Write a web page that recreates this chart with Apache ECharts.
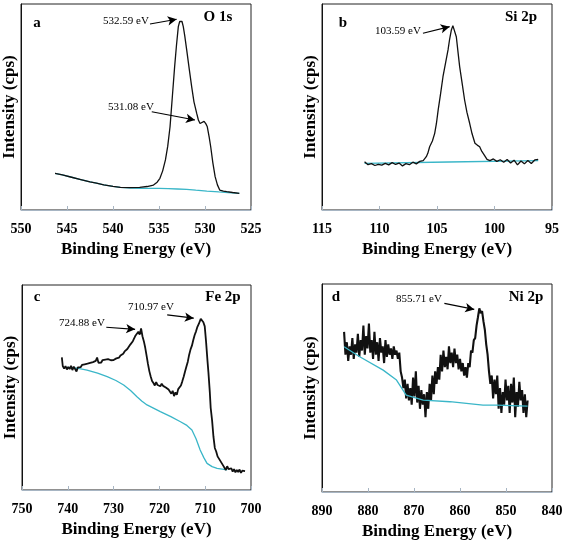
<!DOCTYPE html>
<html>
<head>
<meta charset="utf-8">
<script src="https://cdn.jsdelivr.net/npm/echarts@6/dist/echarts.min.js"></script>
<style>html,body{margin:0;padding:0;background:#fff}#c{width:567px;height:541px}</style>
</head>
<body>
<div id="c"></div>
<script>
// ---- Panel a: O 1s ----
const oSpec = [[546.3,17.8],[545.5,17.0],[544.5,15.9],[543.5,14.8],[542.5,13.6],[541.8,13.0],[541,12.2],[540,11.5],[539.2,11.0],[538.2,10.9],[537.1,11.0],[536.3,11.4],[535.6,12.1],[535.2,13.5],[534.9,15.4],[534.6,19],[534.3,24.3],[534.05,31],[533.8,40.4],[533.55,55],[533.3,69.6],[533.1,80],[532.9,89],[532.75,91.5],[532.62,92.2],[532.5,91.5],[532.36,89],[532.2,84.5],[531.99,77.7],[531.7,68],[531.45,59.9],[531.2,52.5],[530.9,46.9],[530.72,43.7],[530.54,42.0],[530.35,42.6],[530.1,43.0],[529.9,41.8],[529.75,40.4],[529.55,35.5],[529.38,30.7],[529.15,23],[528.9,16.2],[528.65,12.2],[528.4,9.7],[528.0,9.2],[527.64,8.9],[527,8.5],[526.27,8.1]];
const oBase = [[546.3,17.8],[545.5,17.0],[544.5,15.9],[543.5,14.8],[542.5,13.6],[541.8,13.0],[541,12.2],[540,11.5],[539.2,11.0],[538,10.6],[537,10.5],[535,10.5],[534,10.4],[533,10.2],[532,10.0],[531,9.6],[529.8,9.2],[528.5,8.8],[527.5,8.5],[526.27,8.1]];
// ---- Panel b: Si 2p ----
const siSpec = [[111.3,23.4],[111.0,22.0],[110.7,22.5],[110.4,21.6],[110.1,22.2],[109.8,21.8],[109.5,22.6],[109.2,21.9],[108.9,23.0],[108.6,22.1],[108.3,22.8],[108.0,21.4],[107.7,22.5],[107.4,22.0],[107.1,23.2],[106.8,22.4],[106.5,23.6],[106.2,24.0],[105.93,25.9],[105.8,27.5],[105.64,30.7],[105.4,33.5],[105.2,37.2],[105.05,42],[104.9,48.5],[104.7,56],[104.48,64.7],[104.25,71.5],[104.04,77.7],[103.9,83],[103.75,87.4],[103.62,89.5],[103.55,90.3],[103.45,88.6],[103.32,84.1],[103.18,77],[103.03,69.6],[102.8,61],[102.6,53.4],[102.4,47.5],[102.16,42.1],[101.95,37],[101.7,32.4],[101.5,31.5],[101.29,30.7],[101.1,28.4],[100.9,26.8],[100.65,24.6],[100.4,24.0],[100.1,24.8],[99.8,23.6],[99.5,24.4],[99.2,23.2],[98.9,24.5],[98.6,22.8],[98.3,24.2],[98.0,21.9],[97.7,23.8],[97.4,22.4],[97.1,24.0],[96.8,22.6],[96.5,24.3],[96.2,24.6]];
const siBase = [[111.3,22.6],[104,23.3],[96.2,24.0]];
// ---- Panel c: Fe 2p ----
const feSpec = [[741.3,64.7],[741.1,60.5],[740.8,59.2],[740.5,60.4],[740.2,58.8],[739.9,60.0],[739.6,59.0],[739.3,60.6],[739.0,58.5],[738.7,60.2],[738.4,59.3],[738.1,57.8],[737.8,59.8],[737.5,60.6],[737.2,59.9],[736.9,61.0],[736.6,60.2],[736.3,61.3],[736.0,60.4],[735.7,61.6],[735.4,60.8],[735.1,62.0],[734.8,61.1],[734.5,62.4],[734.2,61.5],[733.9,63.0],[733.6,64.6],[733.3,62.0],[733.0,62.8],[732.7,62.2],[732.4,63.4],[732.1,62.5],[731.8,63.6],[731.5,62.8],[731.2,63.8],[730.9,62.9],[730.6,63.3],[730.3,62.6],[730.0,63.4],[729.7,63.0],[729.4,64.2],[729.1,64.8],[728.8,64.6],[728.5,65.6],[728.2,66.2],[727.9,66.5],[727.6,67.6],[727.3,68.0],[727.0,68.8],[726.7,69.5],[726.4,70.8],[726.1,71.4],[725.8,72.6],[725.5,73.5],[725.2,75.4],[724.9,74.8],[724.6,77.2],[724.3,75.8],[724.0,78.8],[723.7,75.0],[723.4,72.6],[723.1,69.5],[722.8,65.5],[722.5,61.5],[722.2,58.0],[721.9,55.4],[721.6,53.2],[721.3,52.2],[721.0,51.0],[720.7,52.6],[720.4,51.2],[720.1,52.0],[719.8,50.6],[719.5,51.8],[719.2,50.8],[718.9,51.4],[718.6,50.0],[718.3,50.8],[718.0,49.0],[717.7,48.2],[717.4,47.0],[717.1,48.4],[716.8,45.8],[716.5,47.6],[716.2,46.4],[715.9,49.2],[715.6,49.6],[715.3,51.0],[715.0,53.0],[714.7,55.2],[714.4,57.8],[714.1,60.2],[713.8,62.6],[713.5,66.0],[713.2,68.6],[712.9,70.4],[712.6,73.2],[712.3,75.6],[712.0,77.4],[711.7,79.6],[711.4,81.0],[711.2,80.2],[710.97,83.5],[710.7,82.6],[710.4,81.8],[710.1,79.8],[709.8,72.0],[709.5,63.0],[709.3,57.5],[709.0,48.0],[708.8,40.0],[708.5,34.1],[708.2,26.0],[707.9,20.5],[707.6,18.8],[707.3,16.4],[707.0,15.8],[706.7,14.2],[706.4,13.5],[706.1,12.0],[705.8,11.5],[705.5,9.8],[705.2,11.6],[704.9,10.2],[704.6,9.4],[704.3,10.6],[704.0,9.0],[703.7,10.2],[703.4,8.6],[703.1,9.8],[702.8,8.8],[702.5,10.0],[702.2,8.4],[701.9,9.4],[701.6,8.6],[701.3,9.2]];
const feBase = [[740.2,59.8],[738,59.4],[735.8,58.5],[733.5,57.0],[731.4,55.3],[729.5,53.4],[727.8,51.2],[726.3,48.5],[724.9,45.5],[723.8,43.3],[722.7,41.5],[721.2,39.8],[719.8,38.2],[717.5,35.8],[715.4,33.3],[714.0,31.5],[712.9,29.3],[712.0,25],[711.1,19.5],[710.3,15.8],[709.6,13.0],[708.5,11.4],[707.4,10.6],[705.2,9.8]];
// ---- Panel d: Ni 2p ----
const niSpec = [[885.2,77],[884.9,66],[884.6,72],[884.3,63],[884.0,70],[883.7,66],[883.4,74],[883.1,64],[882.8,71],[882.5,67],[882.2,76],[881.9,65],[881.6,73],[881.3,68],[881.0,80],[880.7,66],[880.4,75],[880.1,69],[879.8,81],[879.5,67],[879.2,73],[878.9,64],[878.6,77],[878.3,66],[878.0,72],[877.7,63],[877.4,74],[877.1,67],[876.8,70],[876.5,62],[876.2,73],[875.9,65],[875.6,71],[875.3,66],[875.0,69],[874.7,64],[874.4,70],[874.1,66],[873.8,68],[873.5,64],[873.2,67],[872.9,58],[872.6,55],[872.3,50],[872.0,54],[871.7,45],[871.4,52],[871.1,44],[870.8,50],[870.5,42],[870.2,55],[869.9,46],[869.6,58],[869.3,43],[869.0,51],[868.7,40],[868.4,49],[868.1,42],[867.8,47],[867.5,36],[867.2,48],[866.9,40],[866.6,52],[866.3,44],[866.0,56],[865.7,47],[865.4,58],[865.1,52],[864.8,60],[864.5,54],[864.2,66],[863.9,58],[863.6,68],[863.3,60],[863.0,65],[862.7,59],[862.4,70],[862.1,62],[861.8,67],[861.5,60],[861.2,69],[860.9,62],[860.6,66],[860.3,59],[860.0,64],[859.7,58],[859.4,62],[859.1,56],[858.8,60],[858.5,55],[858.2,62],[857.9,60],[857.6,68],[857.3,67],[857.0,73],[856.7,74],[856.4,80],[856.1,84],[855.8,88.3],[855.5,86],[855.2,87],[854.9,82],[854.6,78],[854.3,71],[854.0,66],[853.7,58],[853.4,52],[853.1,56],[852.8,45],[852.5,54],[852.2,47],[851.9,56],[851.6,40],[851.3,50],[851.0,38],[850.7,48],[850.4,42],[850.1,54],[849.8,44],[849.5,51],[849.2,38],[848.9,52],[848.6,43],[848.3,55],[848.0,36],[847.7,48],[847.4,41],[847.1,53],[846.8,44],[846.5,49],[846.2,38],[845.9,47],[845.6,36],[845.3,44]];
const niBase = [[885.2,69.8],[881.8,65],[876.7,58.6],[873.8,53.8],[871.7,46.6],[868,44.2],[862.2,43.4],[855,41.8],[852.1,41.8],[845.3,41.3]];

// axis ranges and tick steps
const xRanges = [[525,550,5],[95,115,5],[700,750,10],[840,890,10]];
const panelLetters = ['a','b','c','d'];
const panelTitles = ['O 1s','Si 2p','Fe 2p','Ni 2p'];
// peak annotations: [panel, label, from, to]
const peakNotes = [
  [0,'532.59 eV',[535.98,90.3],[533.08,92.6]],
  [0,'531.08 eV',[535.79,47.7],[531.09,43.7]],
  [1,'103.59 eV',[106.22,85.8],[103.9,89.0]],
  [2,'710.97 eV',[718.3,85.4],[712.5,83.8]],
  [2,'724.88 eV',[731.6,79.4],[725.3,78.4]],
  [3,'855.71 eV',[863.4,90.7],[856.9,87.8]]
];
const spectra = [oSpec, siSpec, feSpec, niSpec];
const baselines = [oBase, siBase, feBase, niBase];

// layout (pixels)
const grids = [
  {left:21, top:4, width:230, height:206},
  {left:322, top:4, width:230, height:206},
  {left:22, top:285, width:229, height:205},
  {left:322, top:284, width:230, height:208}
];
const letterPos = [[37,23],[343,23],[37,297],[336,297]];
const titlePos = [[218,17],[521,17],[223,297],[526,297]];
const notePos = [[126,21],[131,107],[398,31],[151,307],[82,323],[419,299]];
const lineWidths = [1.3, 1.3, 1.8, 2.1];

const FONT = '"Liberation Serif","Times New Roman",serif';
const chart = echarts.init(document.getElementById('c'), null, {renderer:'canvas'});

const xAxes = xRanges.map((r,i)=>({
  type:'value', gridIndex:i, inverse:true, min:r[0], max:r[1], interval:r[2],
  axisLine:{show:true, lineStyle:{color:'#a7b5c3', width:1}},
  axisTick:{show:true, inside:true, length:4, lineStyle:{color:'#a7b5c3'}},
  splitLine:{show:false},
  axisLabel:{color:'#000', fontFamily:FONT, fontWeight:'bold', fontSize:14, margin:12},
  name:'Binding Energy (eV)', nameLocation:'middle', nameGap:31,
  nameTextStyle:{color:'#000', fontFamily:FONT, fontWeight:'bold', fontSize:17}
}));
const yAxes = grids.map((g,i)=>({
  type:'value', gridIndex:i, min:0, max:100,
  axisLine:{show:true, lineStyle:{color:'#111'}},
  axisTick:{show:false}, axisLabel:{show:false}, splitLine:{show:false},
  name:'Intensity (cps)', nameLocation:'middle', nameGap:3,
  nameTextStyle:{color:'#000', fontFamily:FONT, fontWeight:'bold', fontSize:17}
}));

const series = [];
spectra.forEach((s,i)=>{
  const notes = peakNotes.filter(n=>n[0]===i);
  series.push({
    type:'line', xAxisIndex:i, yAxisIndex:i, data:baselines[i], showSymbol:false,
    lineStyle:{color:'#3ab6c8', width:1.3}, z: i===3 ? 4 : 2, silent:true
  });
  series.push({
    type:'line', xAxisIndex:i, yAxisIndex:i, data:s, showSymbol:false,
    lineStyle:{color:'#111', width: lineWidths[i]}, z:3, silent:true,
    markLine:{
      silent:true, symbol:['none','arrow'], symbolSize:[7,9],
      lineStyle:{color:'#000', width:1.2, type:'solid'},
      label:{show:false},
      data: notes.map(n=>[{coord:n[2]},{coord:n[3]}])
    }
  });
});

const graphic = [];
panelLetters.forEach((t,i)=>graphic.push({type:'text', x:letterPos[i][0], y:letterPos[i][1], style:{text:t, align:'center', verticalAlign:'middle', font:'bold 15px '+FONT, fill:'#000'}}));
panelTitles.forEach((t,i)=>graphic.push({type:'text', x:titlePos[i][0], y:titlePos[i][1], style:{text:t, align:'center', verticalAlign:'middle', font:'bold 15px '+FONT, fill:'#000'}}));
peakNotes.forEach((n,i)=>graphic.push({type:'text', x:notePos[i][0], y:notePos[i][1], style:{text:n[1], align:'center', verticalAlign:'middle', font:'11px '+FONT, fill:'#000'}}));

chart.setOption({
  animation:false,
  backgroundColor:'#fff',
  grid: grids.map(g=>Object.assign({show:true, borderColor:'#222', borderWidth:1, backgroundColor:'transparent'}, g)),
  xAxis:xAxes, yAxis:yAxes, series, graphic
});
</script>
</body>
</html>
